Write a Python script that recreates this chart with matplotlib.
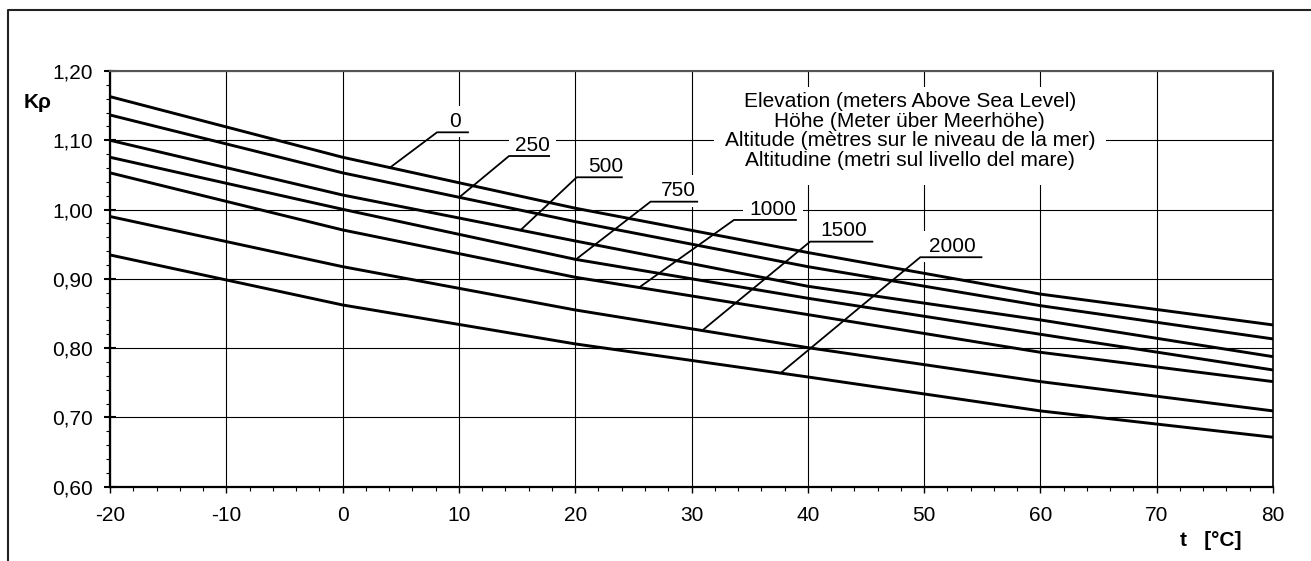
import matplotlib.pyplot as plt
import numpy as np
from matplotlib.patches import Rectangle
from matplotlib.lines import Line2D
from matplotlib.ticker import MultipleLocator, FuncFormatter

plt.rcParams['font.family'] = ['Liberation Sans', 'DejaVu Sans']

# temperature points [°C]
temps = [-20, 0, 20, 40, 60, 80]

# K_rho per elevation (m a.s.l.)
k_0 = [1.163, 1.0755, 1.002, 0.938, 0.878, 0.8335]
k_250 = [1.1365, 1.053, 0.9826, 0.9176, 0.8613, 0.8133]
k_500 = [1.100, 1.021, 0.9547, 0.8893, 0.8407, 0.7877]
k_750 = [1.0755, 1.0004, 0.9282, 0.872, 0.820, 0.7685]
k_1000 = [1.053, 0.9706, 0.9023, 0.8484, 0.794, 0.7517]
k_1500 = [0.990, 0.9176, 0.8551, 0.8007, 0.7517, 0.7094]
k_2000 = [0.9345, 0.8623, 0.8061, 0.7584, 0.7094, 0.6714]

elev_labels = ['0', '250', '500', '750', '1000', '1500', '2000']
series = [k_0, k_250, k_500, k_750, k_1000, k_1500, k_2000]

# leader lines: x on curve, elbow (x, y), end x of underline, label x
lead_start = [4.07, 10.03, 15.30, 20.06, 25.49, 30.92, 37.66]
lead_elbow = [(8.12, 1.1115), (14.31, 1.0773), (20.13, 1.0466), (26.48, 1.0114),
              (33.65, 0.985), (40.20, 0.9537), (49.67, 0.9312)]
lead_end = [10.78, 17.76, 24.01, 30.49, 38.98, 45.55, 54.93]
lab_x = [9.63, 16.34, 22.59, 28.88, 37.0, 43.09, 52.40]

legend_txt = ("Elevation (meters Above Sea Level)\n"
              "Höhe (Meter über Meerhöhe)\n"
              "Altitude (mètres sur le niveau de la mer)\n"
              "Altitudine (metri sul livello del mare)")

W, H = 1311, 561
fig = plt.figure(figsize=(W / 100, H / 100), dpi=100)
ax = fig.add_axes([110 / W, 1 - 486.7 / H, (1273 - 110) / W, (486.7 - 71) / H])

ax.set_xlim(-20, 80)
ax.set_ylim(0.60, 1.20)
ax.set_axisbelow(True)
ax.grid(True, which='major', color='black', lw=0.8)

for s in series:
    ax.plot(temps, s, color='black', lw=2.1, zorder=2, solid_joinstyle='miter')

# leaders and labels
for i in range(len(series)):
    x0 = lead_start[i]
    y0 = np.interp(x0, temps, series[i])
    ex, ey = lead_elbow[i]
    ax.plot([x0, ex, lead_end[i]], [y0, ey, ey], color='black', lw=1.3, zorder=4)
    ax.text(lab_x[i], ey + 0.002, elev_labels[i], ha='center', va='bottom',
            fontsize=15, zorder=3,
            bbox=dict(boxstyle='square,pad=0.3', fc='white', ec='none'))

# white area behind the legend text
ax.add_patch(Rectangle((31.92, 1.0355), 65.62 - 31.92, 1.177 - 1.0355,
                       fc='white', ec='none', zorder=1))
ax.text(48.77, 1.1134, legend_txt, ha='center', va='center', fontsize=15,
        linespacing=1.06, zorder=3)

# ticks
ax.xaxis.set_major_locator(MultipleLocator(10))
ax.xaxis.set_minor_locator(MultipleLocator(2))
ax.yaxis.set_major_locator(MultipleLocator(0.1))
ax.yaxis.set_minor_locator(MultipleLocator(0.02))
ax.yaxis.set_major_formatter(FuncFormatter(lambda v, p: f"{v:.2f}".replace('.', ',')))
ax.xaxis.set_major_formatter(FuncFormatter(lambda v, p: f"{v:.0f}"))
ax.tick_params(axis='x', which='major', direction='out', length=4, width=1, pad=10, labelsize=15)
ax.tick_params(axis='x', which='minor', direction='out', length=3, width=0.8)
ax.tick_params(axis='y', which='major', direction='inout', length=9, width=1.5, pad=8, labelsize=15)
ax.tick_params(axis='y', which='minor', direction='out', length=3, width=0.8)

for side in ['left', 'bottom']:
    ax.spines[side].set_linewidth(1.6)
ax.spines['right'].set_linewidth(1.2)
ax.spines['top'].set_linewidth(1.5)
ax.spines['top'].set_color('#555555')

fig.text(24 / W, 1 - 103 / H, 'Kρ', fontsize=15, fontweight='bold', ha='left', va='center')
fig.text(1180 / W, 1 - 540 / H, 't   [°C]', fontsize=15, fontweight='bold', ha='left', va='center')

# outer frame
fig.add_artist(Line2D([8 / W, 8 / W, 1], [0, 1 - 10 / H, 1 - 10 / H],
                      transform=fig.transFigure, color='#222222', lw=1.5))

fig.savefig('out.png', dpi=100)
